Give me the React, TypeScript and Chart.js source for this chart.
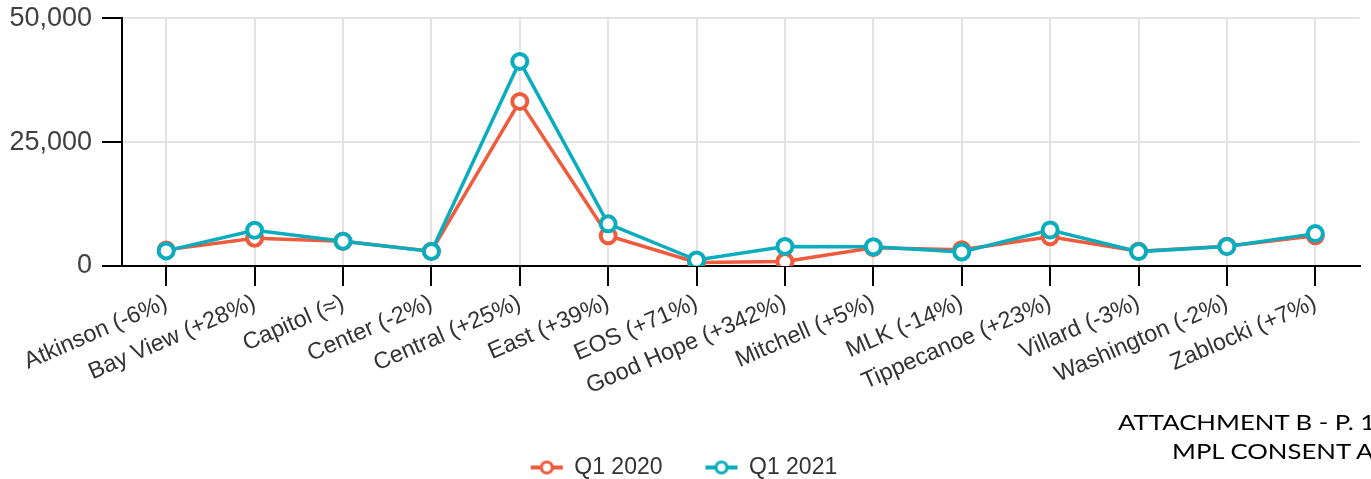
import React, { useEffect, useRef } from "react";
import { Chart, registerables } from "chart.js";

Chart.register(...registerables);

const categories = [
  "Atkinson (-6%)",
  "Bay View (+28%)",
  "Capitol (≈)",
  "Center (-2%)",
  "Central (+25%)",
  "East (+39%)",
  "EOS (+71%)",
  "Good Hope (+342%)",
  "Mitchell (+5%)",
  "MLK (-14%)",
  "Tippecanoe (+23%)",
  "Villard (-3%)",
  "Washington (-2%)",
  "Zablocki (+7%)",
];
const q1_2020 = [3250, 5600, 5000, 3000, 33200, 6100, 700, 900, 3700, 3300, 5900, 3000, 4000, 6100];
const q1_2021 = [3050, 7200, 5000, 2940, 41250, 8500, 1200, 3950, 3880, 2830, 7260, 2900, 3920, 6530];
const yTicks = [0, 25000, 50000];
const seriesNames = ["Q1 2020", "Q1 2021"];
const noteLines = ["ATTACHMENT B - P. 1", "MPL CONSENT A"];

const ORANGE = "#ef5b3d";
const TEAL = "#0aadbe";
const FONT = "'Liberation Sans', Arial, sans-serif";

function makeMarker(color: string): HTMLCanvasElement {
  const c = document.createElement("canvas");
  c.width = 34;
  c.height = 20;
  const ctx = c.getContext("2d")!;
  ctx.strokeStyle = color;
  ctx.lineWidth = 4;
  ctx.beginPath();
  ctx.moveTo(1, 10);
  ctx.lineTo(33, 10);
  ctx.stroke();
  ctx.beginPath();
  ctx.arc(17, 10, 5.5, 0, Math.PI * 2);
  ctx.fillStyle = "#ffffff";
  ctx.fill();
  ctx.lineWidth = 3.2;
  ctx.stroke();
  return c;
}

export default function App() {
  const ref = useRef<HTMLCanvasElement>(null);

  useEffect(() => {
    const markers = [makeMarker(ORANGE), makeMarker(TEAL)];
    const chart = new Chart(ref.current!, {
      type: "line",
      data: {
        labels: categories,
        datasets: [
          {
            label: seriesNames[0],
            data: q1_2020,
            borderColor: ORANGE,
            backgroundColor: "#ffffff",
            pointBackgroundColor: "#ffffff",
            pointBorderColor: ORANGE,
            borderWidth: 3.5,
            pointRadius: 7.5,
            pointBorderWidth: 4,
            tension: 0,
            order: 1,
          },
          {
            label: seriesNames[1],
            data: q1_2021,
            borderColor: TEAL,
            backgroundColor: "#ffffff",
            pointBackgroundColor: "#ffffff",
            pointBorderColor: TEAL,
            borderWidth: 3.5,
            pointRadius: 7.5,
            pointBorderWidth: 4,
            tension: 0,
            order: 0,
          },
        ],
      },
      options: {
        responsive: false,
        maintainAspectRatio: false,
        animation: false,
        layout: { padding: { left: 6, right: 9, top: 18, bottom: -10 } },
        plugins: {
          tooltip: { enabled: false },
          legend: {
            position: "bottom",
            labels: {
              usePointStyle: true,
              pointStyleWidth: 32,
              padding: 43,
              color: "#333333",
              font: { family: FONT, size: 23 },
              sort: (a: any, b: any) => a.datasetIndex - b.datasetIndex,
              generateLabels: (ch: any) => {
                const items = (Chart.defaults.plugins.legend.labels as any).generateLabels(ch);
                return items.map((it: any) => ({ ...it, pointStyle: markers[it.datasetIndex] }));
              },
            },
          },
        },
        scales: {
          x: {
            type: "category",
            offset: true,
            grid: {
              display: true,
              color: "#e3e3e3",
              lineWidth: 2,
              tickColor: "#000000",
              tickLength: 20,
              tickWidth: 2,
              offset: false,
            },
            border: { display: true, color: "#000000", width: 2 },
            ticks: {
              autoSkip: false,
              minRotation: 23.5,
              maxRotation: 23.5,
              padding: 3,
              color: "#333333",
              font: { family: FONT, size: 23.4 },
            },
            afterFit: (scale: any) => {
              scale.height = 147;
            },
          },
          y: {
            min: 0,
            max: 50000,
            afterBuildTicks: (scale: any) => {
              scale.ticks = yTicks.map((v) => ({ value: v }));
            },
            grid: {
              color: "#e3e3e3",
              lineWidth: 2,
              tickColor: "#000000",
              tickLength: 20,
              tickWidth: 2,
            },
            border: { display: true, color: "#000000", width: 2 },
            ticks: {
              padding: 10,
              color: "#404040",
              font: { family: FONT, size: 27, lineHeight: 0.6 },
            },
            afterFit: (scale: any) => {
              scale.width = 116;
            },
          },
        },
      },
    } as any);
    return () => chart.destroy();
  }, []);

  const noteStyle: React.CSSProperties = {
    position: "absolute",
    fontFamily: "Lato, 'Open Sans', sans-serif",
    fontSize: 22,
    lineHeight: "29px",
    color: "#000000",
    whiteSpace: "nowrap",
    transform: "scaleX(1.17)",
    transformOrigin: "0 0",
  };

  return (
    <div
      style={{
        position: "fixed",
        left: 0,
        top: 0,
        width: 1371,
        height: 479,
        overflow: "hidden",
        background: "#ffffff",
      }}
    >
      <canvas ref={ref} width={1371} height={479} style={{ display: "block", width: 1371, height: 479 }} />
      <div style={{ ...noteStyle, left: 1118, top: 407 }}>{noteLines[0]}</div>
      <div style={{ ...noteStyle, left: 1172, top: 436 }}>{noteLines[1]}</div>
    </div>
  );
}
